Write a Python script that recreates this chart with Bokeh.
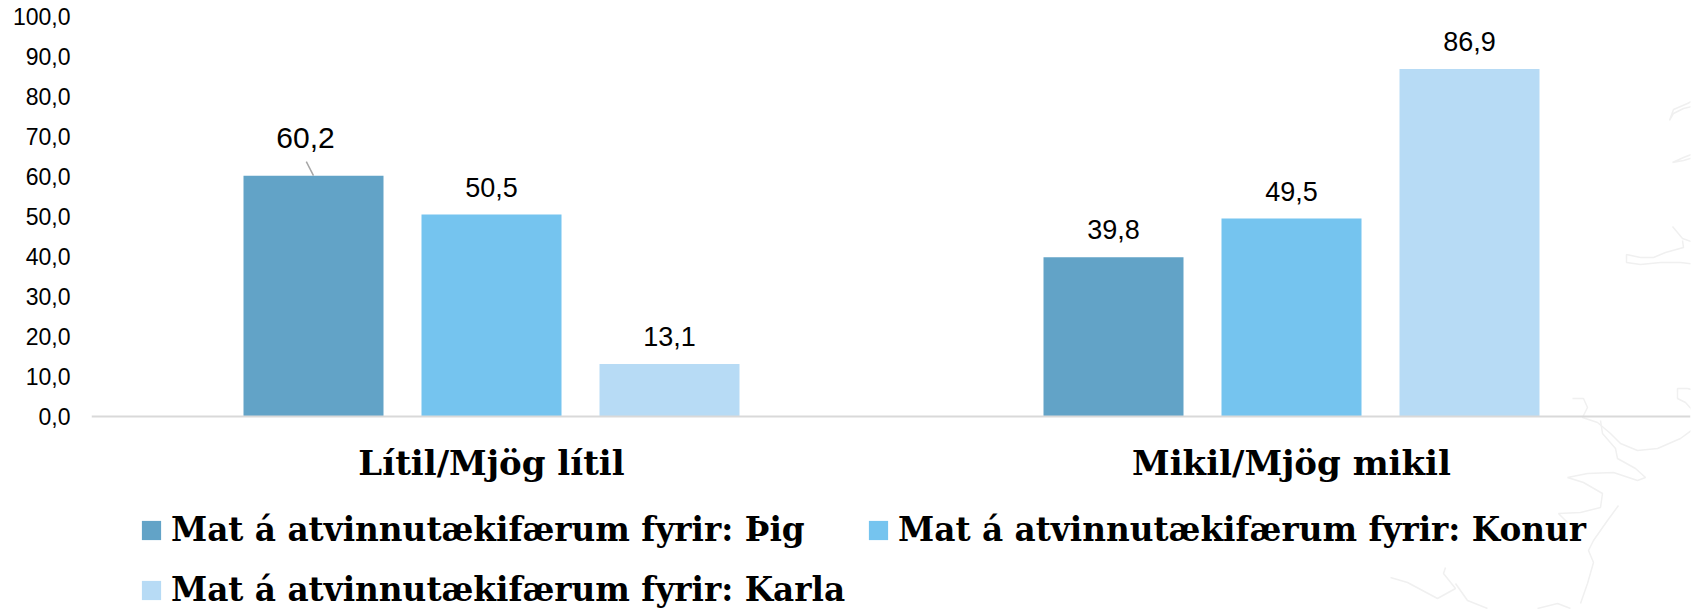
from bokeh.plotting import figure
from bokeh.models import Range1d, FixedTicker, ColumnDataSource, Legend, LegendItem
from bokeh.core.properties import value
from bokeh.embed import file_html
from bokeh.resources import INLINE

categories = ["Lítil/Mjög lítil", "Mikil/Mjög mikil"]
series_names = ["Mat á atvinnutækifærum fyrir: Þig",
                "Mat á atvinnutækifærum fyrir: Konur",
                "Mat á atvinnutækifærum fyrir: Karla"]
thig = [60.2, 39.8]
konur = [50.5, 49.5]
karla = [13.1, 86.9]
series_values = [thig, konur, karla]
colors = ["#62A3C7", "#75C4EF", "#B7DBF5"]
y_ticks = [0, 10, 20, 30, 40, 50, 60, 70, 80, 90, 100]

WIDTH, HEIGHT = 1696, 609
LEFT, RIGHT, TOP, BOTTOM = 91, 6, 16, 193
PX_PER_CAT = 800
PX_PER_UNIT = 4
BAR_W = 0.175
STEP = 0.2225
SANS = "Liberation Sans"
SLAB = "DejaVu Serif"

# Faint background map outline (decoration, traced in page pixels)
map_upper = [
    [(1696, 98), (1687, 103), (1673, 109), (1669, 120), (1673, 113), (1683, 108), (1696, 105)],
    [(1696, 152), (1683, 157), (1672, 162), (1683, 160), (1696, 156)],
    [(1672, 226), (1682, 238), (1696, 243)],
    [(1682, 240), (1683, 247), (1665, 252), (1653, 257), (1640, 257), (1626, 254),
     (1626, 262), (1640, 264), (1660, 262), (1680, 262), (1696, 264)],
]
map_lower = [
    [(1572, 398), (1583, 398), (1587, 407), (1582, 417), (1597, 422), (1610, 433),
     (1620, 443), (1637, 450), (1657, 448), (1680, 438), (1695, 427)],
    [(1600, 420), (1602, 433), (1615, 448), (1617, 458), (1635, 468), (1645, 477),
     (1637, 480), (1613, 472), (1587, 473), (1567, 477), (1583, 482), (1602, 493),
     (1600, 507), (1580, 512), (1558, 513), (1567, 522)],
    [(1618, 505), (1607, 520), (1593, 540), (1588, 550), (1593, 562), (1587, 583), (1580, 603)],
    [(1390, 577), (1407, 582), (1437, 598), (1455, 588), (1443, 573), (1445, 567)],
    [(1455, 583), (1467, 600), (1487, 608)],
    [(1695, 413), (1685, 402), (1677, 398), (1677, 388), (1687, 388), (1695, 390)],
    [(1537, 608), (1557, 603), (1570, 608)],
]

p = figure(width=WIDTH, height=HEIGHT, output_backend="svg", toolbar_location=None,
           x_range=Range1d(0, (WIDTH - LEFT - RIGHT) / PX_PER_CAT),
           y_range=Range1d(-BOTTOM / PX_PER_UNIT, 100),
           min_border_left=LEFT, min_border_top=TOP, min_border_bottom=0, min_border_right=RIGHT)
p.outline_line_color = None
p.grid.visible = False
p.background_fill_color = "white"

traces = map_upper + map_lower
p.multi_line(xs=[[(px - LEFT) / PX_PER_CAT for px, _ in t] for t in traces],
             ys=[[(TOP + 100 * PX_PER_UNIT - py) / PX_PER_UNIT for _, py in t] for t in traces],
             line_color="#F0F0F0", line_width=1.5)

centers = [i + 0.5 for i in range(len(categories))]

p.yaxis.ticker = FixedTicker(ticks=y_ticks)
p.yaxis.major_label_overrides = {t: f"{t},0" for t in y_ticks}
p.yaxis.axis_line_color = None
p.yaxis.major_tick_line_color = None
p.yaxis.minor_tick_line_color = None
p.yaxis.major_label_text_font = SANS
p.yaxis.major_label_text_font_size = "23px"
p.yaxis.major_label_text_color = "#000000"
p.yaxis.major_label_standoff = 15

p.xaxis.fixed_location = 0
p.xaxis.ticker = FixedTicker(ticks=centers)
p.xaxis.major_label_overrides = {c: n for c, n in zip(centers, categories)}
p.xaxis.axis_line_color = "#D9D9D9"
p.xaxis.axis_line_width = 2
p.xaxis.major_tick_line_color = None
p.xaxis.minor_tick_line_color = None
p.xaxis.major_label_text_font = SLAB
p.xaxis.major_label_text_font_style = "bold"
p.xaxis.major_label_text_font_size = "34px"
p.xaxis.major_label_text_color = "#000000"
p.xaxis.major_label_standoff = 20

renderers = []
for s, (vals, col) in enumerate(zip(series_values, colors)):
    xs = [c + (s - 1) * STEP for c in centers]
    src = ColumnDataSource(dict(x=xs, top=vals, label=[f"{v:.1f}".replace(".", ",") for v in vals]))
    r = p.vbar(x="x", top="top", width=BAR_W, bottom=0, source=src, fill_color=col, line_color=None)
    renderers.append(r)
    # the first bar's label is larger and offset with a leader line
    lab = ColumnDataSource(dict(
        x=xs, y=vals, t=src.data["label"],
        xo=[-8 if (s == 0 and i == 0) else 0 for i in range(len(xs))],
        yo=[-28 if (s == 0 and i == 0) else -18 for i in range(len(xs))],
        fs=["30px" if (s == 0 and i == 0) else "27px" for i in range(len(xs))]))
    p.text(x="x", y="y", text="t", x_offset="xo", y_offset="yo", text_font_size="fs",
           text_font=value(SANS), text_align="center", text_baseline="bottom",
           text_color="#000000", source=lab)

p.segment(x0=[centers[0] - STEP], y0=[thig[0]],
          x1=[centers[0] - STEP - 0.009], y1=[thig[0] + 3.5],
          line_color="#A6A6A6", line_width=1.5)

legend = Legend(items=[LegendItem(label=n, renderers=[r]) for n, r in zip(series_names, renderers)],
                ncols=2, orientation="horizontal", location=(48, 0),
                glyph_width=24, glyph_height=24, label_standoff=8, spacing=21,
                padding=0, margin=0, border_line_color=None, background_fill_alpha=0,
                label_text_font=SLAB, label_text_font_style="bold", label_text_font_size="32.7px",
                label_text_color="#000000")
p.add_layout(legend, "center")

open("out.html", "w").write(file_html(p, INLINE))
